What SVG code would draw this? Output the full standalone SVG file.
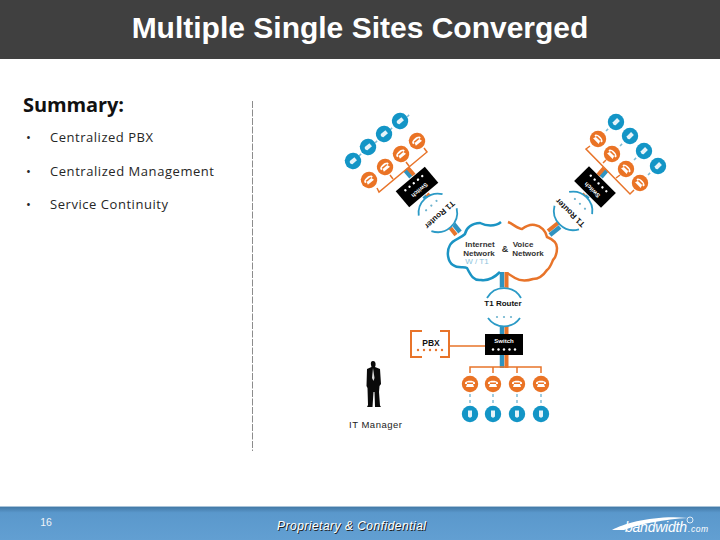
<svg xmlns="http://www.w3.org/2000/svg" width="720" height="540" viewBox="0 0 720 540">
<style>
.s{font-family:"Liberation Sans",Arial,sans-serif}
.c{font-family:"Open Sans","Noto Sans",sans-serif;fill:#262626}
.n{font-family:"Liberation Sans",Arial,sans-serif;font-size:8px;fill:#333;text-anchor:middle;font-weight:bold}
.o{fill:none;stroke:#e8742a;stroke-width:1.5}
.sb{stroke:#2f93c0;stroke-width:4.5;fill:none}
.so{stroke:#e8742a;stroke-width:4;fill:none}
.d{stroke:#7fbcd6;stroke-width:1.5;stroke-dasharray:3 3;fill:none}
.w{font-family:"Liberation Sans",Arial,sans-serif;font-size:6px;font-weight:bold;fill:#fff;text-anchor:middle}
.t{font-family:"Liberation Sans",Arial,sans-serif;font-size:8px;font-weight:bold;fill:#111;text-anchor:middle}
</style>
<defs>
<linearGradient id="f" x1="0" y1="0" x2="0" y2="1"><stop offset="0" stop-color="#3f74a0"/><stop offset="0.2" stop-color="#5a98cc"/><stop offset="1" stop-color="#629fd2"/></linearGradient>
<g id="ph"><circle r="8.200" fill="#ea7325"/><path d="M-5-1.500C-3-4 3-4 5-1.500V0H3V-1.500H-3V0H-5ZM-3 0H3L4 3H-4Z" fill="#fff"/></g>
<g id="ip"><circle r="8.200" fill="#1395c6"/><path d="M-2-3.500H2V2.500C1 4-1 4-2 2.500Z" fill="#e6f3f9"/></g>
<g id="rd"><circle r="19.500" fill="#fff" stroke="none"/><path d="M-17-9A19.500 19.500 0 0 1 17-9M-16 11A19.500 19.500 0 0 0 16 11" fill="none" stroke="#2b9ac6" stroke-width="1.800"/><g fill="#6fb4cf"><circle cx="-7" cy="10" r="1.100"/><circle cy="10" r="1.100"/><circle cx="7" cy="10" r="1.100"/></g></g>
<g id="sw"><rect x="-19" y="-10.500" width="38" height="21" fill="#000"/><text class="w" y="-2">Switch</text><g fill="#fff"><circle cx="-11" cy="5" r="1.200"/><circle cx="-5.500" cy="5" r="1.200"/><circle cy="5" r="1.200"/><circle cx="5.500" cy="5" r="1.200"/><circle cx="11" cy="5" r="1.200"/></g></g>
</defs>

<g id="title"><rect width="720" height="59" fill="#404040"/><text class="s" x="360" y="38" font-size="30" font-weight="bold" fill="#fff" text-anchor="middle">Multiple Single Sites Converged</text></g>

<g id="summary">
<text class="c" x="23" y="112" font-size="20" font-weight="bold" style="fill:#111" textLength="101">Summary:</text>
<g font-size="13">
<text class="c" x="26" y="142">•</text><text class="c" x="50" y="142" textLength="103">Centralized PBX</text>
<text class="c" x="26" y="176">•</text><text class="c" x="50" y="176" textLength="164">Centralized Management</text>
<text class="c" x="26" y="209">•</text><text class="c" x="50" y="209" textLength="118">Service Continuity</text>
</g>
</g>

<line id="divider" x1="252.500" y1="101" x2="252.500" y2="451" stroke="#8c8c8c" stroke-width="1" stroke-dasharray="7 1.500"/>

<g id="connectors">
<path class="sb" d="M405 170L411 177M424 196L432 204"/><path class="so" d="M408 168L414 175M427 194L433 200"/>
<path class="sb" d="M607 170L601 177M588 196L580 204"/><path class="so" d="M604 168L598 175M585 194L579 200"/>
<path class="so" d="M448 225L456 235"/><path class="sb" d="M452 222L460 232"/>
<path class="so" d="M558 223L548 231"/><path class="sb" d="M560 227L550 235"/>
<path class="sb" d="M502 272V288M502 320V368"/><path class="so" d="M506.500 272V288M506.500 320V368"/>
<path class="o" d="M377 188L379 192L427 152L424 148M393 179L390 175M409 166L406 162"/>
<path class="o" d="M590 146L586 149L630 194L634 190M603 163L606 160M616 178L620 175"/>
<path class="d" d="M359 156L363 152M375 143L379 139M390 130L394 126M407 117L410 114"/>
<path class="d" d="M606 131L610 127M620 146L624 142M634 160L638 156M648 175L652 171"/>
<path class="o" d="M450 346H485M470 373V367H541V373M493 367V373M517 367V373"/>
<path class="d" d="M470 394V405M493 394V405M517 394V405M541 394V405"/>
</g>

<g id="cloud">
<path d="M501 222C495 227 486 226 480 223C472 223 466 228 465 234C460 239 453 239 450 245C446 252 448 262 453 265C458 269 464 266 467 268C471 276 474 281 481 280C488 281 495 277 500 272" fill="none" stroke="#1b94c4" stroke-width="2.500"/>
<path d="M508 222C513 224 518 229 522 229C526 226 531 224 535 225C541 226 546 231 547 237C552 239 557 243 557 248C557 254 555 258 553 260C551 265 550 268 547 270C543 276 538 279 533 279C527 281 520 281 515 278L507 273" fill="none" stroke="#e8742a" stroke-width="2.500"/>
<text class="n" x="480" y="247">Internet</text><text class="n" x="479" y="256">Network</text>
<text class="n" x="477" y="264" style="fill:#8cc3dc;font-weight:normal">W / T1</text>
<text class="n" x="505" y="252" style="font-size:9px">&amp;</text>
<text class="n" x="523" y="247">Voice</text><text class="n" x="528" y="256">Network</text>
</g>

<g id="router-bottom"><use href="#rd" transform="translate(504 307)"/><text class="t" x="503" y="306">T1 Router</text></g>
<g id="router-left"><use href="#rd" transform="translate(438 213) rotate(138)"/><text class="t" transform="translate(440 215) rotate(138)" y="3">T1 Router</text></g>
<g id="router-right"><use href="#rd" transform="translate(573 211) rotate(-136)"/><text class="t" transform="translate(570 213) rotate(-136)" y="3">T1 Router</text></g>

<g id="switch-left"><use href="#sw" transform="translate(417 187) rotate(140)"/></g>
<g id="switch-right"><use href="#sw" transform="translate(595 187) rotate(-135)"/></g>
<g id="switch-bottom"><use href="#sw" transform="translate(504 344.500)"/></g>

<g id="pbx">
<path d="M422 331H411V357H422M440 331H449V357H440" fill="none" stroke="#e8742a" stroke-width="2"/>
<text class="t" x="431" y="346" style="font-size:8.500px">PBX</text>
<g fill="#e8742a"><circle cx="418" cy="350" r="1.200"/><circle cx="424" cy="350" r="1.200"/><circle cx="430" cy="350" r="1.200"/><circle cx="436" cy="350" r="1.200"/><circle cx="442" cy="350" r="1.200"/></g>
</g>

<g id="phones-left">
<use href="#ip" transform="translate(353 161) rotate(50)"/><use href="#ip" transform="translate(368 147) rotate(50)"/><use href="#ip" transform="translate(384 134) rotate(50)"/><use href="#ip" transform="translate(400 121) rotate(50)"/>
<use href="#ph" transform="translate(369 180) rotate(-40)"/><use href="#ph" transform="translate(385 167) rotate(-40)"/><use href="#ph" transform="translate(401 154) rotate(-40)"/><use href="#ph" transform="translate(417 141) rotate(-40)"/>
</g>
<g id="phones-right">
<use href="#ip" transform="translate(616 122) rotate(45)"/><use href="#ip" transform="translate(630 136) rotate(45)"/><use href="#ip" transform="translate(644 151) rotate(45)"/><use href="#ip" transform="translate(658 166) rotate(45)"/>
<use href="#ph" transform="translate(598 139) rotate(45)"/><use href="#ph" transform="translate(612 154) rotate(45)"/><use href="#ph" transform="translate(626 169) rotate(45)"/><use href="#ph" transform="translate(640 183) rotate(45)"/>
</g>
<g id="phones-bottom">
<use href="#ph" transform="translate(470 384)"/><use href="#ph" transform="translate(493 384)"/><use href="#ph" transform="translate(517 384)"/><use href="#ph" transform="translate(541 384)"/>
<use href="#ip" transform="translate(470 414)"/><use href="#ip" transform="translate(493 414)"/><use href="#ip" transform="translate(517 414)"/><use href="#ip" transform="translate(541 414)"/>
</g>

<g id="it-manager">
<path fill="#0a0a0a" d="M373 361C375 361 376 363 375.500 365.500L375 367L380 369L381 384L379.500 386L379 392L380 405.500L381 407H375L374.500 392H373.500L372.500 407H367L368 405L367.500 388L366.500 386L367 369L371.500 367L371 365C370.500 363 371 361 373 361Z"/>
<path d="M373 368L372 378L373.500 381L374.500 378Z" fill="#ddd"/>
<text class="s" x="375.500" y="428" font-size="9.500" fill="#222" text-anchor="middle" textLength="53">IT Manager</text>
</g>

<g id="footer">
<rect y="506" width="720" height="34" fill="url(#f)"/>
<line x1="0" x2="720" y1="506.500" y2="506.500" stroke="#a9c4da"/>
<text class="s" x="46" y="526" font-size="10.500" fill="#f0f4f8" text-anchor="middle">16</text>
<text class="s" x="278" y="531" font-size="12" font-style="italic" fill="#222" textLength="149">Proprietary &amp; Confidential</text>
<text class="s" x="277" y="530" font-size="12" font-style="italic" fill="#fff" textLength="149">Proprietary &amp; Confidential</text>
<path d="M612 530C625 523 655 515 688 518C665 519 640 524 624 530Z" fill="#fff"/>
<circle cx="690" cy="520" r="3" fill="none" stroke="#fff" stroke-width="0.800"/>
<text class="s" x="625" y="532" font-size="14" font-style="italic" fill="#fff" textLength="62">bandwidth</text>
<text class="s" x="688" y="532" font-size="8.500" font-style="italic" fill="#fff" textLength="20">.com</text>
</g>
</svg>
